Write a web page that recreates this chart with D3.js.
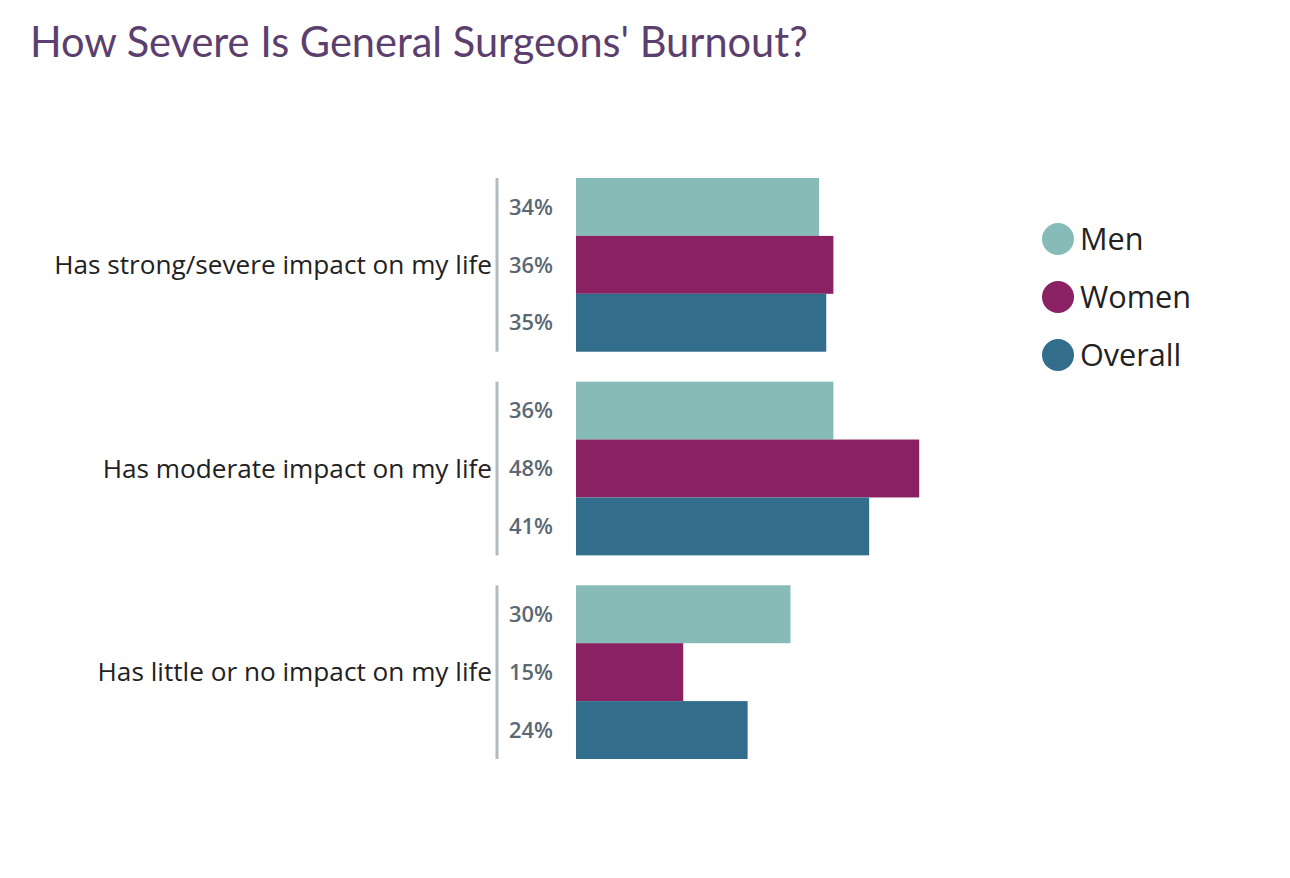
<!DOCTYPE html>
<html><head><meta charset="utf-8">
<script src="https://cdn.jsdelivr.net/npm/d3@7"></script>
<style>body{margin:0;background:#fff}svg{display:block}</style>
</head><body>
<script>
const categories = ["Has strong/severe impact on my life","Has moderate impact on my life","Has little or no impact on my life"];
const seriesNames = ["Men","Women","Overall"];
const men = [34,36,30];
const women = [36,48,15];
const overall = [35,41,24];
const colors = ["#86bbb8","#892163","#336d8c"];
const title = "How Severe Is General Surgeons' Burnout?";

const W=1290,H=878;
const svg=d3.select("body").append("svg").attr("width",W).attr("height",H);
const font="Lato, 'Open Sans', sans-serif";
const font2="'Open Sans', Lato, sans-serif";

function fit(sel,size,target){const l=sel.node().getComputedTextLength();return size*target/l;}

const seriesVals=[men,women,overall];
const x=d3.scaleLinear().domain([0,50]).range([576,576+357.5]);
const y0=d3.scaleBand().domain(categories).range([178,759]).paddingInner(0.147).paddingOuter(0);
const y1=d3.scaleBand().domain(seriesNames).range([0,y0.bandwidth()]);

const t=svg.append("text").attr("x",30).attr("y",57).attr("fill","#5b3f6e")
  .style("font-family",font).style("font-weight",400).style("font-size","35px").text(title);
t.style("font-size",fit(t,35,778)+"px");

const g=svg.selectAll("g.grp").data(categories).join("g").attr("transform",d=>`translate(0,${y0(d)})`);
g.append("line").attr("x1",497).attr("x2",497).attr("y1",0).attr("y2",y0.bandwidth()).attr("stroke","#b3bac0").attr("stroke-width",3);
const cl=g.append("text").attr("x",492).attr("y",y0.bandwidth()/2).attr("dy","0.35em").attr("text-anchor","end")
  .attr("fill","#222").style("font-family",font2).style("font-size","22px").text(d=>d);
const cs=fit(d3.select(cl.nodes()[0]),22,438);
cl.style("font-size",cs+"px");

const vl=[];
categories.forEach((c,ci)=>{
  seriesNames.forEach((s,si)=>{
    const v=seriesVals[si][ci];
    const gy=y0(c)+y1(s);
    svg.append("rect").attr("x",x(0)).attr("y",gy).attr("width",x(v)-x(0)).attr("height",y1.bandwidth()).attr("fill",colors[si]);
    vl.push(svg.append("text").attr("x",509).attr("y",gy+y1.bandwidth()/2).attr("dy","0.35em").attr("fill","#5a6873")
      .style("font-family",font2).style("font-weight",600).style("font-size","18px").text(v+"%"));
  });
});
const vs=fit(vl[0],18,44);
vl.forEach(s=>s.style("font-size",vs+"px"));

const leg=svg.selectAll("g.leg").data(seriesNames).join("g").attr("transform",(d,i)=>`translate(1058,${239+i*58})`);
leg.append("circle").attr("r",16).attr("fill",(d,i)=>colors[i]);
const lt=leg.append("text").attr("x",22).attr("dy","0.35em").attr("fill","#222").style("font-family",font2).style("font-size","28px").text(d=>d);
const ls=fit(d3.select(lt.nodes()[1]),28,111);
lt.style("font-size",ls+"px");
</script>
</body></html>
